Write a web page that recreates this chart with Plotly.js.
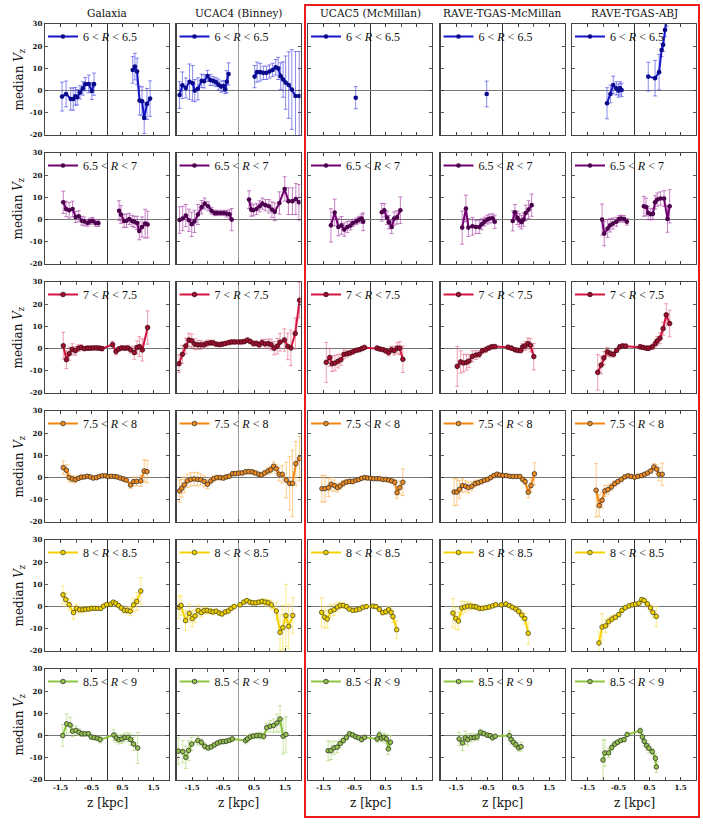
<!DOCTYPE html>
<html><head><meta charset="utf-8">
<script src="https://cdn.plot.ly/plotly-3.0.1.min.js"></script>
<style>html,body{margin:0;padding:0;background:#fff}#plot{width:703px;height:830px}</style>
</head><body><div id="plot"></div>
<script>
// ---------- labels ----------
const columnTitles = ["Galaxia", "UCAC4 (Binney)", "UCAC5 (McMillan)", "RAVE-TGAS-McMillan", "RAVE-TGAS-ABJ"];
const binLo = ["6", "6.5", "7", "7.5", "8", "8.5"];
const binHi = ["6.5", "7", "7.5", "8", "8.5", "9"];
const xTickVals = [-1.5, -0.5, 0.5, 1.5];
const xTickText = ["-1.5", "-0.5", "0.5", "1.5"];
const yTickVals = [-20, -10, 0, 10, 20, 30];
const yTickText = ["-20", "-10", "0", "10", "20", "30"];

// ---------- row 1 : 6 < R < 6.5 ----------
const gal1_z = [-1.45,-1.32,-1.17,-1.09,-1.02,-0.96,-0.87,-0.78,-0.70,-0.59,-0.49,-0.42,null,0.83,0.90,0.97,1.05,1.13,1.20,1.29,1.39];
const gal1_v = [-2.7,-1.5,-3.8,-3.8,-2.6,-3.0,-0.8,1.0,2.9,3.0,-0.2,2.9,null,9.3,10.8,8.6,-4.5,-4.8,-12.3,-6.0,-3.6];
const gal1_e = [6.5,5.8,5,5,4,3.5,3,3,3,4,3.8,5,null,6,6,6,6.5,6.5,7,7,8];
const uc41_z = [-1.90,-1.81,-1.70,-1.58,-1.48,-1.41,-1.31,-1.19,-1.11,-1.00,-0.91,-0.82,-0.73,-0.65,-0.56,-0.48,-0.43,-0.38,-0.32,null,0.52,0.60,0.70,0.80,0.90,1.00,1.10,1.20,1.28,1.36,1.44,1.52,1.62,1.72,1.84,1.96];
const uc41_v = [-2.0,2.4,1.2,4.0,3.3,0,0.8,4.4,4.2,6.6,4.8,4.4,3.8,2.7,1.8,2.1,0.6,4.0,7.5,null,6.3,8.3,8.3,8.0,8.0,8.6,9.3,10.5,10.0,6.5,5.0,3.6,2.5,0.5,-2.4,-2.4];
const uc41_e = [6,6,4.5,8,8,5,5,3,3,2.5,2.5,2,2,2.5,2.5,2.5,2,5,5,null,5,4.5,4,3,3,3,3,3.5,5,6,8,12,15,18,20,20];
const uc51_z = [-0.46];
const uc51_v = [-3.2];
const uc51_e = [5];
const rm1_z = [-0.51];
const rm1_v = [-1.5];
const rm1_e = [5.8];
const abj1_z = [-0.87,-0.76,-0.67,-0.57,-0.50,-0.45,-0.40,null,0.46,0.68,0.81,0.89,0.94,1.00,1.05];
const abj1_v = [-5.7,-1.5,2.5,1.0,0.0,1.0,0.3,null,6.3,5.6,8.3,18.3,20.6,27.3,32];
const abj1_e = [7,4,4,3,3,3,3,null,6.5,8,8,3,3,3,3];

// ---------- row 2 : 6.5 < R < 7 ----------
const gal2_z = [-1.41,-1.32,-1.22,-1.11,-1.01,-0.91,-0.81,-0.73,-0.63,-0.55,-0.46,-0.37,-0.28,null,0.39,0.45,0.55,0.63,0.72,0.81,0.88,0.97,1.04,1.13,1.23,1.31];
const gal2_v = [7.8,4.8,4.2,4.8,1.2,1.5,-0.5,-0.8,-1.5,-0.8,-0.5,-1.5,-1.6,null,4.0,2.3,-0.6,-0.5,0.3,-0.6,-1.0,-1.5,-5.1,-3.3,-1.8,-2.2];
const gal2_e = [5,3.5,3.5,3.5,2.5,2.5,2,2,1.5,1.5,1.5,1.5,1.5,null,4.5,4,3,3,2.5,2.5,2.5,3,4,4.5,6.5,6];
const uc42_z = [-1.90,-1.80,-1.70,-1.60,-1.51,-1.42,-1.31,-1.19,-1.09,-0.98,-0.87,-0.77,-0.69,-0.58,-0.47,-0.38,-0.29,-0.22,null,0.34,0.41,0.48,0.58,0.68,0.77,0.87,0.98,1.08,1.17,1.32,1.49,1.61,1.74,1.85,1.95];
const uc42_v = [-0.2,0.5,1.8,-0.3,-2.1,-0.8,2.3,5.6,7.2,6.0,4.0,3.0,3.0,3.0,3.0,2.7,2.4,0,null,9.0,4.5,4.2,4.8,6.0,7.2,6.5,6.0,4.5,3.5,7.5,13.8,8.3,8.3,9.3,7.8];
const uc42_e = [6,5.5,5,5,5.5,5,4.5,3,2.5,2,1.5,1.2,1.2,1.2,1.2,1.5,2,5,null,4,3,2.5,2.5,2.5,2.5,2.5,3,3.5,4,5,5.5,6,6,7,8];
const uc52_z = [-1.26,-1.14,-1.02,-0.92,-0.83,-0.73,-0.63,-0.55,-0.44,-0.35,-0.27,-0.22,null,0.38,0.46,0.55,0.61,0.70,0.78,0.87,0.98];
const uc52_v = [-2.6,3.2,-3.3,-2.6,-4.5,-3.3,-2.7,-1.5,-0.8,0,0.5,-1.0,null,3.3,4.2,0.8,-1.2,-3.3,0.5,1.0,4.2];
const uc52_e = [7.5,6,4,4,3,2.5,2,1.5,1.5,1.5,2,4,null,4,3,3,3,3,3,3,6];
const rm2_z = [-1.30,-1.18,-1.10,-0.97,-0.86,-0.75,-0.67,-0.58,-0.49,-0.41,-0.32,-0.25,null,0.33,0.40,0.48,0.54,0.61,0.68,0.75,0.84,0.94];
const rm2_v = [-3.6,5.0,-3.6,-3.0,-3.3,-3.3,-2.1,-0.9,0,0.5,0.6,-1.0,null,-0.6,3.3,0.8,-0.3,-1.2,0,3.0,4.5,6.5];
const rm2_e = [7.5,6,4,4,3,3,2.5,2,2,2,2,3,null,4.5,3.5,3,3,3,3,3.5,4,5];
const abj2_z = [-1.03,-0.96,-0.85,-0.77,-0.68,-0.57,-0.48,-0.41,-0.32,-0.23,null,0.32,0.39,0.46,0.54,0.61,0.68,0.75,0.85,0.97,1.08,1.15];
const abj2_v = [0,-6.3,-4.0,-2.6,-1.8,-1.0,0.3,0.5,0.3,-1.0,null,6.0,5.7,3.0,2.4,2.6,7.8,9.0,9.5,9.5,0.3,6.0];
const abj2_e = [7,5.5,4,3,2.5,2,1.5,1.5,1.5,1.5,null,4.5,4,3,2.5,2.5,3,3,3,3.5,6,7.5];

// ---------- row 3 : 7 < R < 7.5 ----------
const gal3_z = [-1.41,-1.31,-1.22,-1.12,-1.02,-0.92,-0.83,-0.73,-0.63,-0.54,-0.44,-0.34,-0.25,-0.16,0.18,0.29,0.38,0.47,0.57,0.67,0.76,0.88,0.97,1.05,1.14,1.31];
const gal3_v = [1.3,-5.0,-2.3,-0.3,-1.0,0.2,0.5,0,0.2,0.2,0.3,0.3,0.2,0,1.8,-1.3,-0.2,0.3,0.2,0.3,-0.5,-1.8,0.5,0.9,-0.6,9.5];
const gal3_e = [6,4,3,2.5,2,1.5,1.2,1,1,1,1,1,1,1,1.5,1.5,1,1,1,1.2,1.5,3,3,4.5,5,7.5];
const uc43_z = [-1.92,-1.81,-1.70,-1.60,-1.51,-1.41,-1.31,-1.22,-1.12,-1.02,-0.91,-0.82,-0.72,-0.62,-0.53,-0.43,-0.32,-0.22,-0.12,0.0,0.10,0.19,0.29,0.38,0.48,0.58,0.67,0.76,0.86,0.96,1.05,1.15,1.25,1.34,1.48,1.59,1.69,1.83,1.97];
const uc43_v = [-6.8,-2.6,1.2,3.9,3.5,2.0,1.7,1.7,1.7,2.3,2.6,2.6,2.0,1.8,2.0,2.3,2.7,3.0,3.0,3.0,3.0,3.2,3.8,3.2,2.3,2.3,1.7,2.7,2.1,2.3,1.8,0.2,1.1,2.9,3.9,1.0,0.3,6.8,21.8];
const uc43_e = [4,4,3.5,3,3,2.5,2,2,1.5,1.5,1.2,1.2,1,1,1,1,1,1,1,1,1,1,1,1,1.2,1.2,1.5,1.5,2,2,2.5,3,3.5,4,5,6,8,7,8];
const uc53_z = [-1.41,-1.30,-1.22,-1.13,-1.03,-0.94,-0.84,-0.74,-0.65,-0.55,-0.45,-0.35,-0.26,-0.18,0.23,0.32,0.42,0.51,0.60,0.69,0.78,0.88,0.96,1.06];
const uc53_v = [-6.2,-4.0,-6.8,-6.5,-5.7,-5.0,-2.6,-2.3,-2.0,-1.4,-0.8,-0.5,0,0.5,0.2,-0.2,-0.5,-1.0,-1.8,-0.5,-0.9,0.2,0.2,-4.8];
const uc53_e = [9,4,3.5,3.5,3,2.5,2,1.5,1.2,1.2,1,1,1,1,1,1,1,1.2,1.5,1.5,2,2.5,3,6];
const rm3_z = [-1.46,-1.35,-1.26,-1.16,-1.08,-0.97,-0.86,-0.75,-0.65,-0.54,-0.45,-0.35,-0.25,0.18,0.29,0.40,0.49,0.59,0.65,0.73,0.82,0.90,1.01];
const rm3_v = [-8.0,-6.0,-6.5,-6.2,-5.6,-3.5,-2.9,-2.6,-1.0,-0.5,0.2,0.8,0.9,0.6,0.2,-0.5,-0.8,-0.8,0.8,1.2,2.3,1.5,-3.6];
const rm3_e = [9,5,4,3.5,3,2.5,2,1.5,1.2,1.2,1,1,1,1,1,1,1,1.2,1.5,2,2.5,3,6];
const abj3_z = [-1.17,-1.06,-0.97,-0.86,-0.76,-0.66,-0.56,-0.46,-0.37,-0.27,0.20,0.29,0.40,0.48,0.59,0.69,0.75,0.84,0.94,1.04,1.15];
const abj3_v = [-10.7,-7.4,-4.2,-1.4,-2.3,-2.6,-0.8,0.8,1.2,1.1,0.8,0.5,0.2,0.2,0.8,2.3,3.5,4.7,9.0,15.2,11.3];
const abj3_e = [8,4,3,2,1.5,1.2,1,1,1,1,1,1,1,1,1.2,1.5,2,2.5,3,5,6];

// ---------- row 4 : 7.5 < R < 8 ----------
const gal4_z = [-1.41,-1.31,-1.22,-1.12,-1.02,-0.92,-0.83,-0.73,-0.63,-0.54,-0.44,-0.34,-0.25,-0.15,-0.05,0.04,0.14,0.24,0.33,0.43,0.53,0.62,0.76,0.86,0.96,1.09,1.20,1.29];
const gal4_v = [4.5,3.3,0,-0.6,-0.9,-0.3,0.2,0.3,0.6,0.3,-0.2,0,0.5,0.8,0.8,0.5,0.6,0.5,0.3,-0.2,-0.6,-1.1,-3.3,-1.8,-1.8,-1.5,3.0,2.7];
const gal4_e = [3,2.5,2,1.5,1.5,1,1,0.8,0.8,0.8,0.8,0.8,0.8,0.8,0.8,0.8,0.8,0.8,0.8,0.8,1,1,1.5,2,2,2.5,5,5];
const uc44_z = [-1.90,-1.83,-1.75,-1.65,-1.54,-1.43,-1.32,-1.22,-1.11,-1.00,-0.89,-0.80,-0.70,-0.59,-0.49,-0.40,-0.30,-0.19,-0.10,0.01,0.12,0.23,0.33,0.44,0.54,0.65,0.74,0.84,0.95,1.04,1.13,1.22,1.31,1.41,1.54,1.65,1.74,1.85,1.97];
const uc44_v = [-6.0,-4.8,-3.3,-1.5,-0.8,-0.6,-0.8,-0.9,-1.7,-3.0,-1.5,-0.5,0,0,-0.2,0.3,0.6,1.8,1.8,2.0,2.1,2.6,2.7,2.6,2.1,1.5,1.2,2.1,3.0,3.5,5.1,4.0,1.5,1.5,-1.1,-2.6,-2.6,6.3,8.6];
const uc44_e = [5,4,3.5,3,3,3,3,2.5,2.5,2,1.5,1.2,1,1,1,1,1,1,1,1,1,1,1,1,1,1,1,1.2,1.5,1.5,2,2,3,4,8,12,15,10,10];
const uc54_z = [-1.55,-1.45,-1.34,-1.25,-1.15,-1.05,-0.96,-0.86,-0.76,-0.66,-0.56,-0.46,-0.37,-0.27,-0.17,-0.08,0.02,0.12,0.22,0.31,0.41,0.51,0.60,0.70,0.80,0.87,0.96,1.06];
const uc54_v = [-5.0,-5.0,-4.5,-3.0,-3.6,-4.5,-3.8,-2.6,-2.0,-1.7,-1.8,-1.2,-0.9,-0.3,0,-0.2,-0.3,-0.5,-0.5,-0.5,-0.8,-0.8,-1.1,-1.5,-2.1,-6.8,-4.5,-2.1];
const uc54_e = [6,6,4,3,2.5,2,1.5,1.2,1,1,1,0.8,0.8,0.8,0.8,0.8,0.8,0.8,0.8,0.8,0.8,0.8,1,1,1.2,2.5,3,6];
const rm4_z = [-1.56,-1.47,-1.39,-1.29,-1.19,-1.10,-0.99,-0.88,-0.78,-0.68,-0.58,-0.48,-0.38,-0.28,-0.18,-0.09,0.02,0.13,0.24,0.34,0.45,0.56,0.65,0.73,0.83,0.92,1.03];
const rm4_v = [-6.5,-6.5,-5.3,-3.6,-3.9,-4.5,-3.9,-2.7,-2.3,-1.8,-1.2,-0.8,0,0.9,1.5,1.1,0.9,0.9,0.6,0.5,0.5,0.5,-0.8,-1.8,-6.6,-3.6,1.7];
const rm4_e = [6,6,4,3,2.5,2.5,2,1.5,1.2,1,1,1,1,1,1,1,0.8,0.8,0.8,0.8,0.8,0.8,1,1.5,2.5,3,5];
const abj4_z = [-1.22,-1.12,-1.03,-0.94,-0.84,-0.73,-0.62,-0.52,-0.41,-0.30,-0.19,-0.09,0.02,0.13,0.24,0.34,0.44,0.54,0.64,0.73,0.81,0.91];
const abj4_v = [-5.7,-12.6,-10.2,-6.0,-5.4,-4.2,-2.7,-1.8,-0.8,0.3,0.8,0.5,0.2,0.6,0.9,1.5,2.1,3.0,4.8,3.8,1.5,1.5];
const abj4_e = [12,5,3.5,2.5,2,1.5,1.2,1,1,0.8,0.8,0.8,0.8,0.8,0.8,0.8,1,1,1.5,2,3,5];

// ---------- row 5 : 8 < R < 8.5 ----------
const gal5_z = [-1.42,-1.33,-1.22,-1.08,-0.98,-0.88,-0.78,-0.69,-0.59,-0.49,-0.40,-0.30,-0.20,-0.11,-0.01,0.12,0.20,0.28,0.37,0.46,0.56,0.66,0.75,0.86,0.96,1.09];
const gal5_v = [5.3,3.2,0.9,-2.7,-0.8,-1.4,-1.4,-1.2,-1.1,-0.8,-0.8,-0.8,-0.8,0.2,0.9,1.1,2.0,1.5,0.5,-0.6,-1.7,-1.7,-2.1,0.8,2.3,7.0];
const gal5_e = [4,3,2.5,3,2,1.5,1.2,1,1,1,0.8,0.8,0.8,0.8,0.8,0.8,0.8,0.8,1,1,1.2,1.5,2,3,4,6];
const uc45_z = [-1.92,-1.85,-1.71,-1.59,-1.49,-1.40,-1.30,-1.20,-1.11,-1.01,-0.91,-0.82,-0.72,-0.62,-0.53,-0.43,-0.33,-0.24,-0.14,0.05,0.17,0.27,0.37,0.46,0.56,0.66,0.76,0.86,0.96,1.06,1.22,1.34,1.43,1.53,1.62,1.75];
const uc45_v = [-0.3,0.5,-6.3,-3.0,-5.4,-4.2,-1.8,-2.7,-1.8,-1.8,-2.1,-2.4,-2.1,-2.9,-3.3,-2.4,-2.0,-0.8,0,0.8,2.0,2.7,2.0,1.7,1.7,2.0,2.3,2.0,1.7,0.8,-2.0,-11.6,-9.5,-4.0,-8.9,-4.0];
const uc45_e = [5,4.5,4.5,4,3.5,3,2.5,2,1.5,1.5,1.2,1.2,1,1,1,1,1,1,1,1,1,1,1,1,1,1,1.2,1.5,1.5,2,4,8,10,14,10,8];
const uc55_z = [-1.56,-1.46,-1.38,-1.27,-1.16,-1.05,-0.96,-0.86,-0.76,-0.67,-0.55,-0.44,-0.33,-0.23,-0.12,0.10,0.19,0.30,0.41,0.51,0.60,0.68,0.74,0.86];
const uc55_v = [-2.6,-4.8,-5.6,-2.1,-1.4,-0.2,0.5,0.5,0,-1.1,-1.7,-1.5,-1.1,-0.3,0,0.2,0,-1.2,-2.7,-2.3,-1.4,-2.6,-4.5,-10.4];
const uc55_e = [6.5,5,4,3,2.5,2,1.5,1.2,1,1,1,1,0.8,0.8,0.8,0.8,0.8,1,1,1.2,1.5,2,2.5,4];
const rm5_z = [-1.60,-1.51,-1.42,-1.31,-1.22,-1.12,-1.02,-0.92,-0.84,-0.75,-0.65,-0.54,-0.43,-0.32,-0.22,-0.04,0.11,0.22,0.32,0.43,0.52,0.62,0.72,0.83];
const rm5_v = [-2.9,-5.3,-6.5,-0.6,-0.2,0.2,0.2,0,-0.2,-0.8,-0.8,-0.5,-0.2,0.3,0.8,0.8,1.2,0.5,-0.3,-1.1,-2.1,-3.8,-5.4,-12.0];
const rm5_e = [6.5,5,4,3,2.5,2,1.5,1.2,1,1,1,1,1,0.8,0.8,0.8,0.8,0.8,1,1,1.5,2,2.5,5];
const abj5_z = [-1.13,-1.03,-0.92,-0.82,-0.71,-0.60,-0.49,-0.39,-0.28,-0.16,-0.05,0.05,0.16,0.25,0.33,0.43,0.53,0.61,0.72];
const abj5_v = [-16.4,-9.2,-8.7,-6.8,-5.6,-4.8,-3.6,-1.7,-0.5,0.3,0.8,1.1,1.5,3.2,2.7,1.2,-0.6,-2.6,-4.4];
const abj5_e = [5,6,3,2,1.5,1.2,1,1,0.8,0.8,0.8,0.8,0.8,0.8,1,1.2,1.5,2.5,4.5];

// ---------- row 6 : 8.5 < R < 9 ----------
const gal6_z = [-1.43,-1.30,-1.19,-1.11,-1.00,-0.90,-0.81,-0.71,-0.60,-0.51,-0.41,-0.31,-0.22,0.22,0.30,0.39,0.48,0.58,0.68,0.76,0.86,0.99];
const gal6_v = [0,5.3,4.8,2.0,2.3,1.5,0.8,0.8,0.8,-0.6,-0.9,-1.2,-1.8,0.3,-1.1,-1.8,-1.5,-0.8,-0.8,-1.8,-3.8,-5.6];
const gal6_e = [5,4.5,3.5,2.5,2,1.5,1.2,1,1,1,1,1,1.5,2.5,2,2,2,2,2,2.5,3,7];
const uc46_z = [-1.94,-1.80,-1.70,-1.61,-1.51,-1.31,-1.20,-1.09,-0.98,-0.88,-0.78,-0.68,-0.58,-0.48,-0.39,-0.29,-0.20,0.23,0.29,0.38,0.48,0.59,0.70,0.81,0.91,1.02,1.13,1.24,1.34,1.44,1.53];
const uc46_v = [-7.0,-7.2,-9.8,-6.7,-3.8,-2.2,-3.0,-4.8,-5.5,-5.1,-4.2,-3.4,-2.8,-2.7,-2.5,-2.1,-1.5,-2.2,-1.5,-0.6,-0.2,0,0,-0.3,3.6,4.2,4.5,5.7,7.5,-0.3,0.5];
const uc46_e = [6,5,5,4.5,3,2,1.5,1.5,1.2,1,1,1,1,1,1,1,1,1.5,1.5,1.2,1.2,1.2,1.5,1.5,2,2.5,3,4,6,8,8];
const uc56_z = [-1.35,-1.26,-1.16,-1.06,-0.96,-0.86,-0.76,-0.66,-0.56,-0.46,-0.37,-0.27,-0.18,0.23,0.30,0.37,0.45,0.53,0.59,0.66];
const uc56_v = [-6.8,-6.8,-5.5,-5.2,-3.6,-2.2,-0.8,0.8,0.3,-0.5,-0.9,-1.8,-0.8,-1.5,0.3,-1.2,-0.8,-1.5,-6.0,-3.0];
const uc56_e = [4.5,4,3,2.5,2,1.5,1.2,1,1,1,1,1,1,1.5,1.5,1.5,2,2,2.5,3];
const rm6_z = [-1.40,-1.29,-1.20,-1.12,-1.01,-0.91,-0.82,-0.71,-0.60,-0.49,-0.40,-0.32,-0.24,0.22,0.28,0.35,0.43,0.52,0.60];
const rm6_v = [-1.5,-3.3,-1.0,-1.8,-0.9,-0.8,-0.6,1.5,0.9,0.2,0,-1.0,-0.3,0,-1.8,-3.0,-4.0,-5.5,-5.0];
const rm6_e = [3,3.5,3,2.5,2,1.5,1.5,1.2,1,1,1,1,1,2,2,2,1.5,1.5,2];
const abj6_z = [-1.00,-0.94,-0.82,-0.72,-0.62,-0.53,-0.43,-0.32,-0.22,0.20,0.27,0.33,0.41,0.48,0.59,0.69,0.72];
const abj6_v = [-11.0,-7.8,-7.8,-5.4,-3.8,-3.0,-2.2,-1.8,0.5,2.2,-0.6,-2.6,-4.5,-5.7,-7.2,-10.2,-14.1];
const abj6_e = [9,6,2,1.5,1.2,1,1,1,1,1.2,1.5,2,2,2,1.5,2,2.5];

// ---------- table built from the arrays ----------
const panels = [
  [[gal1_z,gal1_v,gal1_e],[uc41_z,uc41_v,uc41_e],[uc51_z,uc51_v,uc51_e],[rm1_z,rm1_v,rm1_e],[abj1_z,abj1_v,abj1_e]],
  [[gal2_z,gal2_v,gal2_e],[uc42_z,uc42_v,uc42_e],[uc52_z,uc52_v,uc52_e],[rm2_z,rm2_v,rm2_e],[abj2_z,abj2_v,abj2_e]],
  [[gal3_z,gal3_v,gal3_e],[uc43_z,uc43_v,uc43_e],[uc53_z,uc53_v,uc53_e],[rm3_z,rm3_v,rm3_e],[abj3_z,abj3_v,abj3_e]],
  [[gal4_z,gal4_v,gal4_e],[uc44_z,uc44_v,uc44_e],[uc54_z,uc54_v,uc54_e],[rm4_z,rm4_v,rm4_e],[abj4_z,abj4_v,abj4_e]],
  [[gal5_z,gal5_v,gal5_e],[uc45_z,uc45_v,uc45_e],[uc55_z,uc55_v,uc55_e],[rm5_z,rm5_v,rm5_e],[abj5_z,abj5_v,abj5_e]],
  [[gal6_z,gal6_v,gal6_e],[uc46_z,uc46_v,uc46_e],[uc56_z,uc56_v,uc56_e],[rm6_z,rm6_v,rm6_e],[abj6_z,abj6_v,abj6_e]]
];

// ---------- styles ----------
const rowStyle = [
  {line:'#1414c8', mk:'#0a0a8c', mkl:'#0a0a8c', err:'rgba(60,60,230,0.6)'},
  {line:'#730073', mk:'#4d004d', mkl:'#4d004d', err:'rgba(160,50,160,0.6)'},
  {line:'#d4143f', mk:'#a0102e', mkl:'#3a0a14', err:'rgba(225,80,115,0.55)'},
  {line:'#f5860f', mk:'#f08a1c', mkl:'#333333', err:'rgba(252,170,60,0.6)'},
  {line:'#f7d200', mk:'#f2d000', mkl:'#4a4a20', err:'rgba(250,222,70,0.65)'},
  {line:'#8dc63f', mk:'#92c248', mkl:'#333333', err:'rgba(165,212,100,0.6)'}
];

const FW = 703, FH = 830;
const colLeft = [45, 176.5, 308, 440.5, 572];
const rowTop = [24, 153, 282, 411, 540, 669];
const PW = 124, PH = 111;
const SERIF = 'DejaVu Serif, serif';
const px = v => v / FW;
const py = v => 1 - v / FH;

const traces = [];
const layout = {
  width: FW, height: FH,
  margin: {l:0, r:0, t:0, b:0},
  paper_bgcolor: '#fff', plot_bgcolor: '#fff',
  showlegend: true,
  annotations: [], shapes: []
};

for (let r = 0; r < 6; r++) {
  for (let c = 0; c < 5; c++) {
    const n = r * 5 + c + 1;
    const s = rowStyle[r];
    const [zz, vv, ee] = panels[r][c];
    const legKey = n === 1 ? 'legend' : 'legend' + n;
    traces.push({
      type: 'scatter', mode: 'lines+markers',
      x: zz, y: vv,
      xaxis: n === 1 ? 'x' : 'x' + n,
      yaxis: n === 1 ? 'y' : 'y' + n,
      connectgaps: false,
      name: binLo[r] + ' &lt; <i>R</i> &lt; ' + binHi[r],
      legend: legKey,
      line: {color: s.line, width: 2},
      marker: {color: s.mk, size: 4.6, line: {color: s.mkl, width: r >= 2 ? 0.8 : 0}},
      error_y: {type: 'data', array: ee, visible: true, color: s.err, thickness: 1, width: 2}
    });
    const L = colLeft[c], T = rowTop[r];
    const vzc = (c === 1) ? '#9a9a9a' : '#333';
    const vzw = (c === 1) ? 1.8 : 1;
    layout[n === 1 ? 'xaxis' : 'xaxis' + n] = {
      domain: [px(L), px(L + PW)], anchor: n === 1 ? 'y' : 'y' + n,
      range: [-2, 2], tickmode: 'array', tickvals: xTickVals, ticktext: xTickText,
      showticklabels: r === 5, ticks: 'inside', ticklen: 3, tickwidth: 0.8, tickcolor: '#333',
      minor: {dtick: 0.5, tick0: 0, ticks: 'inside', ticklen: 3, tickwidth: 0.8, tickcolor: '#333', showgrid: false},
      mirror: 'allticks', showline: true, linecolor: '#444', linewidth: 1.3,
      showgrid: false, zeroline: true, zerolinecolor: vzc, zerolinewidth: vzw,
      tickfont: {family: SERIF, size: 7, color: '#111', weight: 'bold'}, fixedrange: true
    };
    layout[n === 1 ? 'yaxis' : 'yaxis' + n] = {
      domain: [py(T + PH), py(T)], anchor: n === 1 ? 'x' : 'x' + n,
      range: [-20, 30], tickmode: 'array', tickvals: yTickVals, ticktext: yTickText,
      showticklabels: c === 0, ticks: 'inside', ticklen: 3, tickwidth: 0.8, tickcolor: '#333',
      mirror: 'allticks', showline: true, linecolor: '#444', linewidth: 1.3,
      showgrid: false, zeroline: true, zerolinecolor: '#777', zerolinewidth: 1.2,
      tickfont: {family: SERIF, size: 7, color: '#111', weight: 'bold'}, fixedrange: true
    };
    layout[legKey] = {
      x: px(L - 2), y: py(T - 2), xref: 'paper', yref: 'paper',
      xanchor: 'left', yanchor: 'top', bgcolor: 'rgba(0,0,0,0)', borderwidth: 0,
      font: {family: 'Liberation Serif, serif', size: 12, color: '#111'},
      itemwidth: 30, tracegroupgap: 0
    };
  }
}

// column titles, axis labels
for (let c = 0; c < 5; c++) {
  layout.annotations.push({text: columnTitles[c], xref: 'paper', yref: 'paper',
    x: px(colLeft[c] + PW / 2), y: py(13), xanchor: 'center', yanchor: 'middle',
    showarrow: false, font: {family: SERIF, size: 10.5, color: '#111'}});
  layout.annotations.push({text: 'z [kpc]', xref: 'paper', yref: 'paper',
    x: px(colLeft[c] + PW / 2), y: py(803), xanchor: 'center', yanchor: 'middle',
    showarrow: false, font: {family: SERIF, size: 12, color: '#111'}});
}
for (let r = 0; r < 6; r++) {
  layout.annotations.push({text: 'median <i>V</i><sub>z</sub>', xref: 'paper', yref: 'paper',
    x: px(19), y: py(rowTop[r] + PH / 2), xanchor: 'center', yanchor: 'middle', textangle: -90,
    showarrow: false, font: {family: SERIF, size: 12, color: '#111'}});
}
// red frame
layout.shapes.push({type: 'rect', xref: 'paper', yref: 'paper',
  x0: px(305), x1: px(699), y0: py(817), y1: py(5),
  line: {color: '#ee1c1c', width: 2}, fillcolor: 'rgba(0,0,0,0)'});

Plotly.newPlot('plot', traces, layout, {staticPlot: true, displayModeBar: false});
</script></body></html>
